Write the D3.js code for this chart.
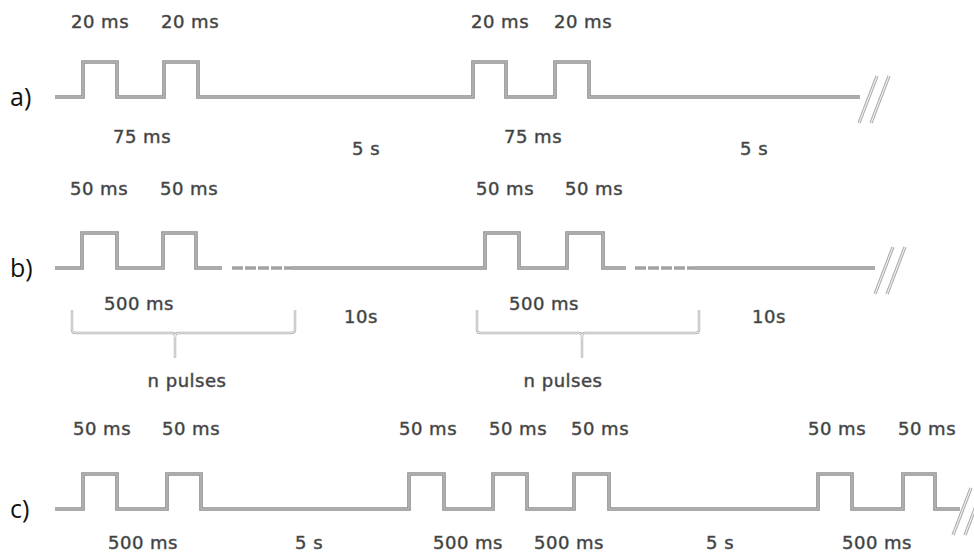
<!DOCTYPE html>
<html>
<head>
<meta charset="utf-8">
<script src="https://cdn.jsdelivr.net/npm/d3@7/dist/d3.min.js"></script>
<style>
  html, body { margin: 0; padding: 0; background: #fff; }
  svg { display: block; }
</style>
</head>
<body>
<svg id="chart" width="974" height="559"></svg>
<script>
// Stimulation protocols: a) paired 20 ms pulses, b) trains of 50 ms pulses, c) pulse triplets.
// Horizontal positions are in schematic diagram units (not to time scale).
const rowLabels = ["a)", "b)", "c)"];

// Pulse on/off edges for each protocol
const pulsesA = [[83, 117], [164, 198], [473, 506], [555, 589]];
const pulsesB = [[82, 117], [163, 196], [485, 519], [567, 603]];
const pulsesC = [[83, 117], [167, 201], [409, 444], [493, 527], [574, 609], [818, 852], [903, 935]];

// Continuous trace extents (solid) and dotted continuation segments
const tracesA = [[55, 860]];
const tracesB = [[55, 222], [293, 626], [695, 875]];
const tracesC = [[55, 960]];
const dashesB = [[232, 293], [635, 695]];

// Axis-break marks at the end of each trace
const breakMarks = [868, 884, 962];

// Braces grouping the pulse trains in b)
const bracesB = [[72, 295, 175], [477, 699, 582]];

// Duration labels: text and anchor position
const labelsA = [
  { t: "20 ms", x: 100, pos: "top" }, { t: "20 ms", x: 190, pos: "top" },
  { t: "20 ms", x: 500, pos: "top" }, { t: "20 ms", x: 583, pos: "top" },
  { t: "75 ms", x: 142, pos: "mid" }, { t: "75 ms", x: 533, pos: "mid" },
  { t: "5 s", x: 366, pos: "low" }, { t: "5 s", x: 754, pos: "low" }
];
const labelsB = [
  { t: "50 ms", x: 99, pos: "top" }, { t: "50 ms", x: 189, pos: "top" },
  { t: "50 ms", x: 505, pos: "top" }, { t: "50 ms", x: 594, pos: "top" },
  { t: "500 ms", x: 139, pos: "mid" }, { t: "500 ms", x: 544, pos: "mid" },
  { t: "10s", x: 361, pos: "low" }, { t: "10s", x: 769, pos: "low" },
  { t: "n pulses", x: 187, pos: "brace" }, { t: "n pulses", x: 563, pos: "brace" }
];
const labelsC = [
  { t: "50 ms", x: 102, pos: "top" }, { t: "50 ms", x: 191, pos: "top" },
  { t: "50 ms", x: 428, pos: "top" }, { t: "50 ms", x: 518, pos: "top" },
  { t: "50 ms", x: 600, pos: "top" }, { t: "50 ms", x: 837, pos: "top" },
  { t: "50 ms", x: 927, pos: "top" },
  { t: "500 ms", x: 143, pos: "mid" }, { t: "500 ms", x: 468, pos: "mid" },
  { t: "500 ms", x: 569, pos: "mid" }, { t: "500 ms", x: 877, pos: "mid" },
  { t: "5 s", x: 309, pos: "mid" }, { t: "5 s", x: 720, pos: "mid" }
];

const rows = [
  { label: rowLabels[0], pulses: pulsesA, traces: tracesA, dashes: [], labels: labelsA, braces: [], brk: breakMarks[0] },
  { label: rowLabels[1], pulses: pulsesB, traces: tracesB, dashes: dashesB, labels: labelsB, braces: bracesB, brk: breakMarks[1] },
  { label: rowLabels[2], pulses: pulsesC, traces: tracesC, dashes: [], labels: labelsC, braces: [], brk: breakMarks[2] }
];

const svg = d3.select("#chart");
const W = 974;

// Schematic horizontal scale
const x = d3.scaleLinear().domain([0, W]).range([0, W]);
// Baseline of each protocol row
const rowY = d3.scaleOrdinal().domain(rowLabels).range([97, 268, 509]);
const pulseH = 35;
// Signal level (0 = off, 1 = on) to vertical offset
const level = d3.scaleLinear().domain([0, 1]).range([0, -pulseH]);

// Label vertical offsets relative to the row baseline
const labelOffset = { top: [-69, -73, -74], mid: [46, 42, 40], low: [58, 55, 40], brace: [0, 119, 0] };

const line = d3.line().x(d => x(d[0])).y(d => d[1]);

function tracePoints(extent, pulses, base) {
  const pts = [[extent[0], base + level(0)]];
  pulses.filter(p => p[0] >= extent[0] && p[1] <= extent[1]).forEach(p => {
    pts.push([p[0], base + level(0)], [p[0], base + level(1)], [p[1], base + level(1)], [p[1], base + level(0)]);
  });
  pts.push([extent[1], base + level(0)]);
  return pts;
}

const textFont = "'DejaVu Sans', sans-serif";

rows.forEach((r, i) => {
  const base = rowY(r.label);
  const g = svg.append("g");

  // Row label
  g.append("text")
    .attr("x", 10).attr("y", base + 9)
    .attr("font-family", "'Open Sans', sans-serif")
    .attr("font-size", 25)
    .attr("fill", "#111")
    .text(r.label);

  // Pulse traces: grey outline with lighter core
  r.traces.forEach(ext => {
    const d = line(tracePoints(ext, r.pulses, base));
    g.append("path").attr("d", d).attr("fill", "none")
      .attr("stroke", "#8e8e8e").attr("stroke-width", 3.6).attr("stroke-linejoin", "miter");
    g.append("path").attr("d", d).attr("fill", "none")
      .attr("stroke", "#c9c9c9").attr("stroke-width", 1.1).attr("stroke-linejoin", "miter");
  });

  // Dotted continuation
  r.dashes.forEach(ext => {
    g.append("line")
      .attr("x1", x(ext[0])).attr("x2", x(ext[1]))
      .attr("y1", base).attr("y2", base)
      .attr("stroke", "#a2a2a2").attr("stroke-width", 3.4)
      .attr("stroke-dasharray", "11,2");
  });

  // Axis-break marks
  [0, 12].forEach(off => {
    const bx = x(r.brk) + off;
    const dd = `M${bx - 9},${base + 26} L${bx + 9},${base - 21}`;
    g.append("path").attr("d", dd).attr("stroke", "#a9a9a9").attr("stroke-width", 3.2).attr("fill", "none");
    g.append("path").attr("d", dd).attr("stroke", "#efefef").attr("stroke-width", 1.2).attr("fill", "none");
  });

  // Braces under the pulse trains
  r.braces.forEach(b => {
    const top = base + 42, bot = base + 65, tip = base + 90;
    const x0 = x(b[0]), x1 = x(b[1]), xm = x(b[2]);
    const dd = `M${x0},${top} L${x0},${bot - 3} Q${x0},${bot} ${x0 + 4},${bot} L${xm - 3},${bot} ` +
      `Q${xm},${bot} ${xm},${bot + 4} L${xm},${tip} M${xm},${bot + 4} Q${xm},${bot} ${xm + 3},${bot} ` +
      `L${x1 - 4},${bot} Q${x1},${bot} ${x1},${bot - 3} L${x1},${top}`;
    g.append("path").attr("d", dd).attr("fill", "none").attr("stroke", "#b0b0b0").attr("stroke-width", 2.4);
    g.append("path").attr("d", dd).attr("fill", "none").attr("stroke", "#f4f4f4").attr("stroke-width", 0.9);
  });

  // Duration labels
  g.selectAll("text.lbl")
    .data(r.labels)
    .join("text")
    .attr("class", "lbl")
    .attr("x", d => x(d.x))
    .attr("y", d => base + labelOffset[d.pos][i])
    .attr("text-anchor", "middle")
    .attr("font-family", textFont)
    .attr("font-size", 18)
    .attr("letter-spacing", 0.5)
    .attr("fill", "#333")
    .attr("stroke", "#666")
    .attr("stroke-width", 0.55)
    .text(d => d.t);
});
</script>
</body>
</html>
